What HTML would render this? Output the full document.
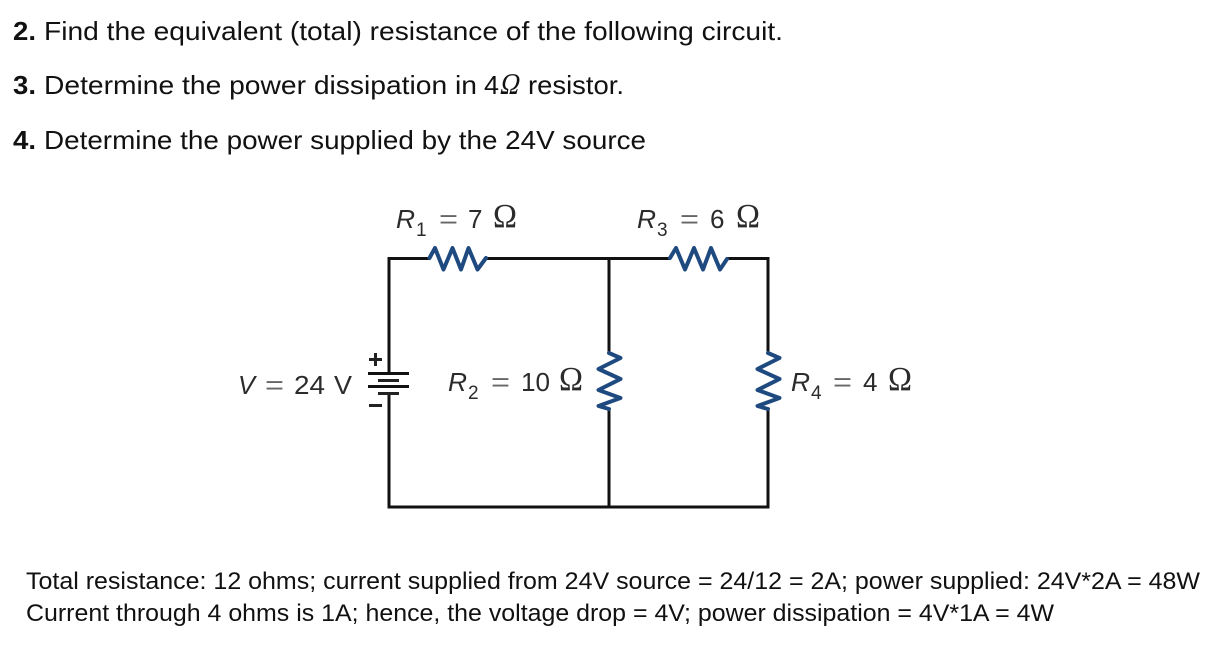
<!DOCTYPE html>
<html><head><meta charset="utf-8"><style>
html,body{margin:0;padding:0;background:#fff}
svg{display:block}
.t{font-family:"Liberation Sans",sans-serif;fill:#111;font-size:26px}
.b{font-weight:bold}
.a{font-family:"Liberation Sans",sans-serif;fill:#111;font-size:24px}
.c{font-family:"Liberation Sans",sans-serif;fill:#2b2b2b;font-size:26px}
.e{fill:#666}
.i{font-style:italic}
.s{font-size:19px}
.o{font-family:"Liberation Serif",serif;font-size:34px;fill:#2b2b2b}
.w{fill:none;stroke:#111;stroke-width:3}
.r{fill:none;stroke:#1f4a80;stroke-width:4;stroke-linejoin:round;stroke-linecap:round}
</style></head><body>
<svg width="1219" height="647" viewBox="0 0 1219 647" xmlns="http://www.w3.org/2000/svg">
<rect width="1219" height="647" fill="#fff"/>
<text class="t b" x="13" y="40" textLength="23" lengthAdjust="spacingAndGlyphs">2.</text>
<text class="t" x="44" y="40" textLength="739" lengthAdjust="spacingAndGlyphs">Find the equivalent (total) resistance of the following circuit.</text>
<text class="t b" x="13" y="94" textLength="23" lengthAdjust="spacingAndGlyphs">3.</text>
<text class="t" x="44" y="94" textLength="433" lengthAdjust="spacingAndGlyphs">Determine the power dissipation in</text>
<text class="t" x="484" y="94" textLength="15" lengthAdjust="spacingAndGlyphs">4</text>
<text class="t" transform="translate(499 94) skewX(-12)" x="0" y="0" style="font-family:'Liberation Serif',serif;font-size:30px" textLength="19" lengthAdjust="spacingAndGlyphs">Ω</text>
<text class="t" x="528" y="94" textLength="96" lengthAdjust="spacingAndGlyphs">resistor.</text>
<text class="t b" x="13" y="149" textLength="23" lengthAdjust="spacingAndGlyphs">4.</text>
<text class="t" x="44" y="149" textLength="602" lengthAdjust="spacingAndGlyphs">Determine the power supplied by the 24V source</text>

<path class="w" d="M389 373V258.500H429M486 258.500H670M727 258.500H768V353M609 258.500V353M389 393V507H768V409M609 409V507"/>
<path class="r" d="M429.500 258L435 248L443.500 269.500L452.500 248L461 269.500L468.500 248L477.500 269.500L486 258"/>
<path class="r" d="M670 258L676 248L685 269.500L694 248L703 269.500L711 248L720 269.500L727 259"/>
<path class="r" d="M609 353L620.500 358L598.500 369L620.500 379L598.500 390L620.500 398L598.500 406L609 409"/>
<path class="r" d="M768 353L779.500 358L757.500 369L779.500 379L757.500 390L779.500 398L757.500 406L768 409"/>

<path d="M368 373.500H409M368 386.500H409" stroke="#111" stroke-width="3" fill="none"/>
<path d="M378 380.500H399M378 393.500H399" stroke="#222" stroke-width="3" fill="none"/>
<path d="M369 359.500H382M375.500 353V366M369 405.500H382" stroke="#222" stroke-width="3" fill="none"/>

<text class="c i" x="396" y="228" textLength="19" lengthAdjust="spacingAndGlyphs">R</text><text class="c s" x="416" y="236">1</text>
<text class="c e" x="439" y="228" textLength="19" lengthAdjust="spacingAndGlyphs">=</text><text class="c" x="468" y="228">7</text>
<text class="o" x="493" y="227" textLength="24" lengthAdjust="spacingAndGlyphs">Ω</text>

<text class="c i" x="637" y="228" textLength="19" lengthAdjust="spacingAndGlyphs">R</text><text class="c s" x="657" y="236">3</text>
<text class="c e" x="680" y="228" textLength="19" lengthAdjust="spacingAndGlyphs">=</text><text class="c" x="710" y="228">6</text>
<text class="o" x="736" y="227" textLength="24" lengthAdjust="spacingAndGlyphs">Ω</text>

<text class="c i" x="238" y="394" textLength="17" lengthAdjust="spacingAndGlyphs">V</text>
<text class="c e" x="265" y="394" textLength="19" lengthAdjust="spacingAndGlyphs">=</text>
<text class="c" x="294" y="394" textLength="31" lengthAdjust="spacingAndGlyphs">24</text>
<text class="c" x="334" y="394" textLength="18" lengthAdjust="spacingAndGlyphs">V</text>

<text class="c i" x="448" y="391" textLength="19" lengthAdjust="spacingAndGlyphs">R</text><text class="c s" x="468" y="399">2</text>
<text class="c e" x="491" y="391" textLength="19" lengthAdjust="spacingAndGlyphs">=</text><text class="c" x="521" y="391" textLength="29" lengthAdjust="spacingAndGlyphs">10</text>
<text class="o" x="559" y="390" textLength="24" lengthAdjust="spacingAndGlyphs">Ω</text>

<text class="c i" x="791" y="391" textLength="19" lengthAdjust="spacingAndGlyphs">R</text><text class="c s" x="811" y="399">4</text>
<text class="c e" x="833" y="391" textLength="19" lengthAdjust="spacingAndGlyphs">=</text><text class="c" x="863" y="391">4</text>
<text class="o" x="888" y="390" textLength="24" lengthAdjust="spacingAndGlyphs">Ω</text>

<text class="a" x="26" y="589" textLength="1174" lengthAdjust="spacingAndGlyphs">Total resistance: 12 ohms; current supplied from 24V source = 24/12 = 2A; power supplied: 24V*2A = 48W</text>
<text class="a" x="26" y="621" textLength="1028" lengthAdjust="spacingAndGlyphs">Current through 4 ohms is 1A; hence, the voltage drop = 4V; power dissipation = 4V*1A = 4W</text>
</svg>
</body></html>
